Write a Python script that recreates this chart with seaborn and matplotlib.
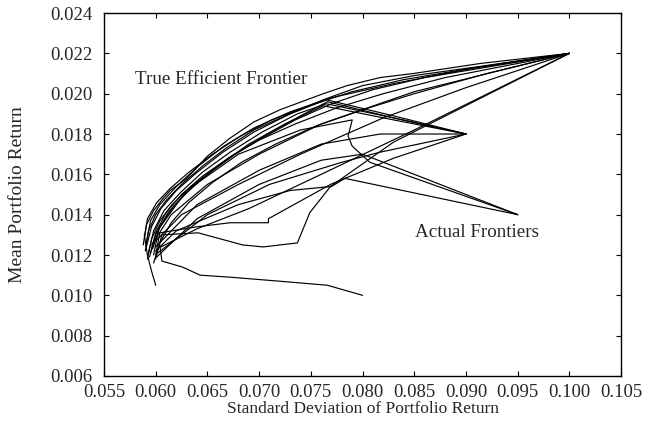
import matplotlib
matplotlib.use("Agg")
import matplotlib.pyplot as plt
import seaborn as sns
import pandas as pd

# Each frontier: (standard deviation, mean) points, traced from min-variance end to its last asset
true_frontier = [(0.0588, 0.0125), (0.0591, 0.0135), (0.0598, 0.0142), (0.0607, 0.0148), (0.0614, 0.0152),
                 (0.0630, 0.0158), (0.0650, 0.0169), (0.0672, 0.0178), (0.0695, 0.0186), (0.0720, 0.0192),
                 (0.0762, 0.0200), (0.0785, 0.0204), (0.0817, 0.0208), (0.0849, 0.0210), (0.0914, 0.0215),
                 (0.1000, 0.0220)]

near_true = [
    [(0.0590, 0.0122), (0.0593, 0.0132), (0.0600, 0.0140), (0.0610, 0.0147), (0.0625, 0.0155), (0.0645, 0.0164),
     (0.0668, 0.0173), (0.0695, 0.0182), (0.0725, 0.0189), (0.0762, 0.0197), (0.0800, 0.0204), (0.0850, 0.0209),
     (0.0920, 0.0214), (0.1000, 0.0220)],
    [(0.0592, 0.0118), (0.0596, 0.0128), (0.0604, 0.0137), (0.0616, 0.0145), (0.0632, 0.0153), (0.0652, 0.0161),
     (0.0676, 0.0170), (0.0703, 0.0178), (0.0735, 0.0187), (0.0770, 0.0195), (0.0810, 0.0202), (0.0860, 0.0208),
     (0.0930, 0.0214), (0.1000, 0.0220)],
    [(0.0595, 0.0121), (0.0600, 0.0131), (0.0610, 0.0141), (0.0625, 0.0150), (0.0645, 0.0159), (0.0670, 0.0168),
     (0.0700, 0.0177), (0.0735, 0.0185), (0.0775, 0.0193), (0.0820, 0.0200), (0.0880, 0.0208), (0.0940, 0.0214),
     (0.1000, 0.0220)],
    [(0.0589, 0.0128), (0.0592, 0.0138), (0.0601, 0.0146), (0.0614, 0.0153), (0.0632, 0.0161), (0.0655, 0.0170),
     (0.0682, 0.0179), (0.0712, 0.0187), (0.0748, 0.0194), (0.0790, 0.0201), (0.0840, 0.0207), (0.0910, 0.0213),
     (0.1000, 0.0220)],
    [(0.0598, 0.0116), (0.0604, 0.0126), (0.0615, 0.0136), (0.0632, 0.0146), (0.0655, 0.0156), (0.0683, 0.0166),
     (0.0716, 0.0175), (0.0755, 0.0184), (0.0800, 0.0192), (0.0850, 0.0200), (0.0920, 0.0210), (0.1000, 0.0220)],
    [(0.0591, 0.0126), (0.0595, 0.0137), (0.0604, 0.0145), (0.0620, 0.0154), (0.0641, 0.0164), (0.0666, 0.0174),
     (0.0695, 0.0183), (0.0730, 0.0191), (0.0770, 0.0198), (0.0830, 0.0205), (0.0900, 0.0212), (0.1000, 0.0220)],
]

kinked = [
    [(0.0591, 0.0124), (0.0596, 0.0134), (0.0605, 0.0143), (0.0620, 0.0152), (0.0640, 0.0161), (0.0665, 0.0171),
     (0.0695, 0.0181), (0.0730, 0.0190), (0.0765, 0.0197), (0.0830, 0.0189), (0.0900, 0.0180)],
    [(0.0594, 0.0119), (0.0600, 0.0130), (0.0612, 0.0141), (0.0628, 0.0150), (0.0650, 0.0160), (0.0677, 0.0170),
     (0.0708, 0.0180), (0.0740, 0.0189), (0.0766, 0.0196), (0.0830, 0.0188), (0.0900, 0.0180)],
    [(0.0597, 0.0123), (0.0604, 0.0134), (0.0617, 0.0144), (0.0636, 0.0154), (0.0660, 0.0164), (0.0690, 0.0175),
     (0.0725, 0.0185), (0.0762, 0.0194), (0.0830, 0.0187), (0.0900, 0.0180)],
    [(0.0593, 0.0121), (0.0598, 0.0132), (0.0608, 0.0142), (0.0624, 0.0151), (0.0645, 0.0161), (0.0672, 0.0171),
     (0.0703, 0.0181), (0.0737, 0.0190), (0.0765, 0.0195), (0.0830, 0.0188), (0.0900, 0.0180)],
]

scattered = [
    [(0.0600, 0.0120), (0.0604, 0.0131), (0.0640, 0.0134), (0.0672, 0.0136), (0.0709, 0.0136), (0.0709, 0.0138),
     (0.0769, 0.0155), (0.0830, 0.0168), (0.0900, 0.0180)],
    [(0.0600, 0.0118), (0.0606, 0.0130), (0.0641, 0.0131), (0.0684, 0.0125), (0.0704, 0.0124), (0.0737, 0.0126),
     (0.0749, 0.0141), (0.0769, 0.0154), (0.0830, 0.0176), (0.1000, 0.0220)],
    [(0.0598, 0.0120), (0.0603, 0.0133), (0.0630, 0.0152), (0.0680, 0.0170), (0.0740, 0.0182), (0.0790, 0.0187),
     (0.0786, 0.0179), (0.0790, 0.0174), (0.0807, 0.0166), (0.0950, 0.0140)],
    [(0.0600, 0.0122), (0.0620, 0.0132), (0.0680, 0.0145), (0.0730, 0.0152), (0.0770, 0.0154), (0.0783, 0.0158),
     (0.0950, 0.0140)],
    [(0.0601, 0.0119), (0.0640, 0.0138), (0.0700, 0.0155), (0.0760, 0.0167), (0.0800, 0.0170), (0.0950, 0.0140)],
    [(0.0604, 0.0125), (0.0606, 0.0117), (0.0626, 0.0114), (0.0643, 0.0110), (0.0672, 0.0109), (0.0720, 0.0107),
     (0.0766, 0.0105), (0.0800, 0.0100)],
    [(0.0589, 0.0130), (0.0592, 0.0120), (0.0596, 0.0112), (0.0600, 0.0105)],
    [(0.0600, 0.0124), (0.0640, 0.0145), (0.0700, 0.0162), (0.0760, 0.0175), (0.0817, 0.0180), (0.0900, 0.0180)],
    [(0.0602, 0.0121), (0.0650, 0.0140), (0.0710, 0.0155), (0.0780, 0.0166), (0.0817, 0.0171), (0.0900, 0.0180)],
    [(0.0596, 0.0125), (0.0615, 0.0140), (0.0650, 0.0155), (0.0700, 0.0170), (0.0760, 0.0185), (0.0850, 0.0201),
     (0.1000, 0.0220)],
    [(0.0600, 0.0127), (0.0625, 0.0140), (0.0680, 0.0155), (0.0740, 0.0170), (0.0820, 0.0188), (0.0900, 0.0203),
     (0.1000, 0.0220)],
    [(0.0605, 0.0124), (0.0640, 0.0133), (0.0690, 0.0143), (0.0760, 0.0160), (0.0850, 0.0182), (0.1000, 0.0220)],
]

x_ticks = [0.055, 0.060, 0.065, 0.070, 0.075, 0.080, 0.085, 0.090, 0.095, 0.100, 0.105]
y_ticks = [0.006, 0.008, 0.010, 0.012, 0.014, 0.016, 0.018, 0.020, 0.022, 0.024]

all_frontiers = [true_frontier] + near_true + kinked + scattered
rows = []
for k, curve in enumerate(all_frontiers):
    for i, (sd, mu) in enumerate(curve):
        rows.append({"frontier": k, "order": i, "sd": sd, "mean": mu})
df = pd.DataFrame(rows)

sns.set_style("ticks")
plt.rcParams["font.family"] = ["Liberation Serif", "DejaVu Serif"]
plt.rcParams["xtick.direction"] = "in"
plt.rcParams["ytick.direction"] = "in"

fig = plt.figure(figsize=(6.58, 4.26), dpi=100)
ax = fig.add_axes([0.158, 0.1174, 0.786, 0.852])

sns.lineplot(data=df, x="sd", y="mean", units="frontier", estimator=None, sort=False,
             color="black", linewidth=0.85, ax=ax, legend=False)

ax.set_xlim(0.055, 0.105)
ax.set_ylim(0.006, 0.024)
ax.set_xticks(x_ticks)
ax.set_yticks(y_ticks)
ax.set_xticklabels([f"{v:.3f}" for v in x_ticks])
ax.set_yticklabels([f"{v:.3f}" for v in y_ticks])
ax.tick_params(axis="both", labelsize=13.5, length=3.5, width=0.8, color="black",
               top=True, right=True)
ax.tick_params(axis="x", pad=6)
ax.tick_params(axis="y", pad=8)
for s in ax.spines.values():
    s.set_visible(True)
    s.set_linewidth(1.0)
    s.set_color("black")

ax.set_xlabel("Standard Deviation of Portfolio Return", fontsize=12.5)
ax.xaxis.set_label_coords(0.5, -0.07)
ax.set_ylabel("Mean Portfolio Return", fontsize=14)
ax.yaxis.set_label_coords(-0.150, 0.5)

ax.text(0.0580, 0.02068, "True Efficient Frontier", fontsize=13.7, va="center", ha="left")
ax.text(0.0851, 0.01314, "Actual Frontiers", fontsize=13.7, va="center", ha="left")

fig.savefig("out.png", dpi=100)
